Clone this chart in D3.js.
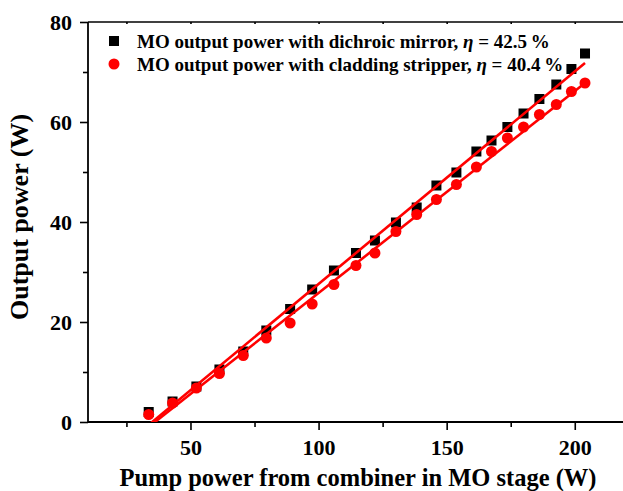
<!DOCTYPE html>
<html><head><meta charset="utf-8">
<script src="https://cdn.jsdelivr.net/npm/d3@7"></script>
<style>
html,body{margin:0;padding:0;background:#fff;overflow:hidden}
svg{display:block}
</style></head><body>
<svg id="chart" width="623" height="491"></svg>
<script>
// ---- data ----
const pump = [33.7, 43.0, 52.3, 61.3, 70.6, 79.6, 88.9, 97.5, 106.0, 114.6, 122.0, 130.2, 138.3, 146.0, 153.8, 161.6, 167.5, 173.7, 180.0, 186.2, 192.8, 198.7, 204.0];
const dichroic = [2.0, 4.1, 7.1, 10.5, 14.1, 18.3, 22.6, 26.5, 30.3, 33.8, 36.3, 39.9, 42.9, 47.3, 49.9, 54.1, 56.3, 59.0, 61.7, 64.6, 67.5, 70.6, 73.7];
const stripper = [1.5, 3.8, 6.8, 9.7, 13.3, 16.8, 19.8, 23.6, 27.5, 31.3, 33.8, 38.1, 41.5, 44.5, 47.5, 51.0, 54.1, 56.8, 59.0, 61.5, 63.5, 66.1, 67.8];
const fitSlope = [0.425, 0.404];
const fitIntercept = [-14.9, -14.6];
const seriesNames = ["MO output power with dichroic mirror, ", "MO output power with cladding stripper, "];
const effLabels = ["42.5", "40.4"];
const xTicks = [50, 100, 150, 200];
const xMinor = [25, 75, 125, 175];
const yTicks = [0, 20, 40, 60, 80];
const yMinor = [10, 30, 50, 70];

const FONT = '"Liberation Serif","Times New Roman",Times,serif';

// ---- layout ----
const svg = d3.select("#chart");
const L = 88, R = 626, T = 22, B = 422;
const x = d3.scaleLinear().domain([10, 220]).range([L, R]);
const y = d3.scaleLinear().domain([0, 80]).range([B, T]);

svg.append("defs").append("clipPath").attr("id","clip")
  .append("rect").attr("x",L).attr("y",T).attr("width",R-L).attr("height",B-T);

// axes
svg.append("g").attr("transform",`translate(0,${B})`)
  .call(d3.axisBottom(x).tickValues(xTicks).tickSize(8).tickPadding(9).tickFormat(d3.format("d")));
svg.append("g").attr("transform",`translate(0,${B})`)
  .call(d3.axisBottom(x).tickValues(xMinor).tickSize(5).tickFormat(""));
svg.append("g").attr("transform",`translate(${L},0)`)
  .call(d3.axisLeft(y).tickValues(yTicks).tickSize(8).tickPadding(8).tickFormat(d3.format("d")));
svg.append("g").attr("transform",`translate(${L},0)`)
  .call(d3.axisLeft(y).tickValues(yMinor).tickSize(5).tickFormat(""));
svg.append("g").attr("transform",`translate(0,${T})`)
  .call(d3.axisBottom(x).tickValues(xTicks.concat(xMinor)).tickSize(2).tickFormat(""));
svg.selectAll("g").attr("font-family", null);
svg.selectAll(".tick line").attr("stroke","#000").attr("stroke-width",1.6);
svg.selectAll(".tick text").style("font-size","22px").attr("fill","#000");
svg.selectAll("path.domain").remove();
svg.append("line").attr("x1",L).attr("x2",R).attr("y1",B).attr("y2",B).attr("stroke","#000").attr("stroke-width",1.8);
svg.append("line").attr("x1",L).attr("x2",L).attr("y1",T).attr("y2",B).attr("stroke","#000").attr("stroke-width",1.8);
svg.append("line").attr("x1",L).attr("x2",R).attr("y1",T).attr("y2",T).attr("stroke","#000").attr("stroke-width",1.6);

// points
svg.selectAll("rect.sq").data(pump).join("rect").attr("class","sq")
  .attr("x",(d)=>x(d)-5).attr("y",(d,i)=>y(dichroic[i])-5)
  .attr("width",10).attr("height",10).attr("fill","#000");
svg.selectAll("circle.ci").data(pump).join("circle").attr("class","ci")
  .attr("cx",(d)=>x(d)).attr("cy",(d,i)=>y(stripper[i])).attr("r",5.5).attr("fill","#ff0000");

// fit lines
const fitG = svg.append("g").attr("clip-path","url(#clip)");
fitSlope.forEach((m,k)=>{
  const xs = d3.extent(pump);
  const pts = xs.map(v=>[v, m*v + fitIntercept[k]]);
  fitG.append("path").datum(pts)
    .attr("d", d3.line().x(d=>x(d[0])).y(d=>y(d[1])))
    .attr("stroke","#ff0000").attr("stroke-width",2.6).attr("fill","none");
});

// legend
const lg = svg.append("g");
lg.append("rect").attr("x",109).attr("y",36).attr("width",10).attr("height",10).attr("fill","#000");
lg.append("circle").attr("cx",114).attr("cy",64).attr("r",5.5).attr("fill","#ff0000");
seriesNames.forEach((s,i)=>{
  const t = lg.append("text").attr("x",137).attr("y",48+i*23).style("font-size","19px");
  t.append("tspan").text(s);
  t.append("tspan").style("font-style","italic").text("η");
  t.append("tspan").text(" = " + effLabels[i] + "\u2009%");
});

// axis titles
svg.append("text").attr("x",358).attr("y",486).attr("text-anchor","middle")
  .style("font-size","24.5px").text("Pump power from combiner in MO stage (W)");
svg.append("text").attr("transform","translate(28,217) rotate(-90)").attr("text-anchor","middle")
  .style("font-size","26px").text("Output power (W)");

svg.selectAll("text").style("font-family", FONT).style("font-weight","bold").attr("fill","#000");
</script>
</body></html>
